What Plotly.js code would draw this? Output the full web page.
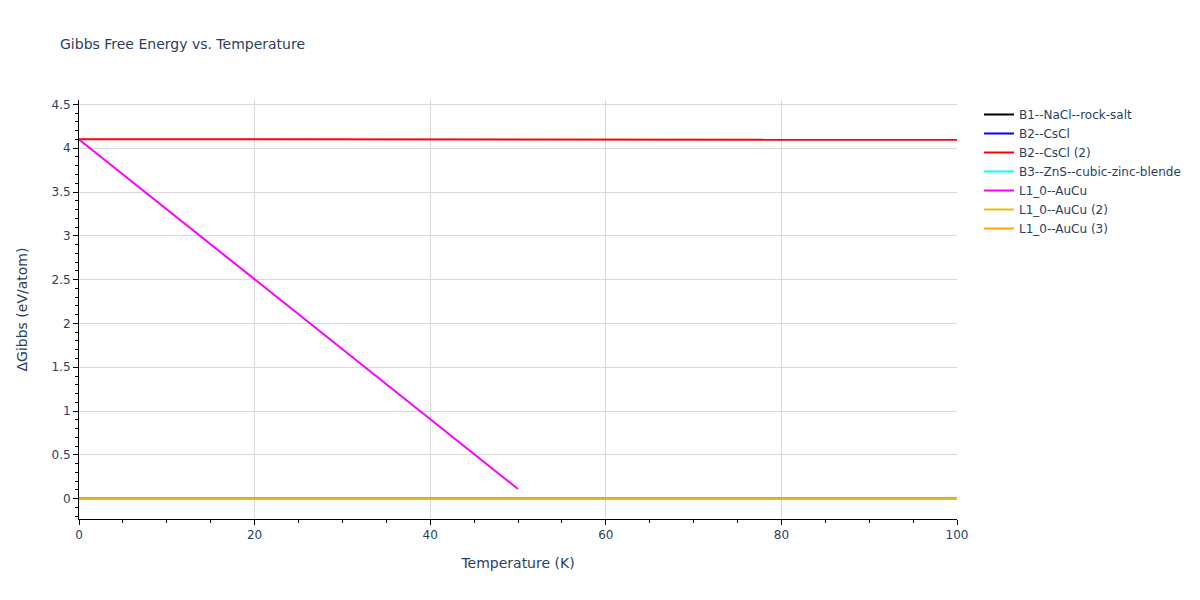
<!DOCTYPE html>
<html>
<head>
<meta charset="utf-8">
<script src="https://cdn.plot.ly/plotly-3.0.1.min.js"></script>
<style>html,body{margin:0;padding:0;background:#fff;}#chart{width:1200px;height:600px;}</style>
</head>
<body>
<div id="chart"></div>
<script>
const seriesNames = ["B1--NaCl--rock-salt", "B2--CsCl", "B2--CsCl (2)", "B3--ZnS--cubic-zinc-blende", "L1_0--AuCu", "L1_0--AuCu (2)", "L1_0--AuCu (3)"];
const seriesColors = ["black", "blue", "red", "cyan", "magenta", "#e8bc1a", "orange"];

const tempFull = [0, 10, 20, 30, 40, 50, 60, 70, 80, 90, 100];
const tempHalf = [0, 10, 20, 30, 40, 50];

const b1Values = [0, 0, 0, 0, 0, 0, 0, 0, 0, 0, 0];
const b2Values = [0, 0, 0, 0, 0, 0, 0, 0, 0, 0, 0];
const b2bValues = [4.102, 4.101, 4.101, 4.1, 4.1, 4.099, 4.099, 4.098, 4.097, 4.097, 4.096];
const b3Values = [0, 0, 0, 0, 0, 0, 0, 0, 0, 0, 0];
const l10Values = [4.1, 3.3, 2.5, 1.71, 0.91, 0.11];
const l10bValues = [0, 0, 0, 0, 0, 0, 0, 0, 0, 0, 0];
const l10cValues = [0, 0, 0, 0, 0, 0, 0, 0, 0, 0, 0];

const xs = [tempFull, tempFull, tempFull, tempFull, tempHalf, tempFull, tempFull];
const ys = [b1Values, b2Values, b2bValues, b3Values, l10Values, l10bValues, l10cValues];
// drawing order: the gold series is drawn over the others at zero, legend keeps reference order
const drawOrder = [0, 1, 3, 6, 5, 2, 4];

const traces = drawOrder.map(i => ({
  x: xs[i], y: ys[i], name: seriesNames[i], type: 'scatter', mode: 'lines',
  legendrank: i + 1,
  line: {color: seriesColors[i], width: 2}
}));

const fontFam = '"DejaVu Sans", Verdana, sans-serif';
const layout = {
  width: 1200, height: 600,
  title: {text: "Gibbs Free Energy vs. Temperature", x: 0.05, y: 0.935, font: {size: 14, color: '#2a3f5f', family: fontFam}},
  font: {family: fontFam, color: '#2a3f5f', size: 12},
  paper_bgcolor: 'white', plot_bgcolor: 'white',
  margin: {l: 79, r: 243, t: 100, b: 81},
  xaxis: {
    title: {text: "Temperature (K)", font: {size: 14}, standoff: 16},
    range: [0, 100], dtick: 20, showgrid: true, gridcolor: '#d9d9d9',
    showline: true, linecolor: 'black', linewidth: 1,
    ticks: 'outside', tickcolor: 'black', ticklen: 5,
    minor: {dtick: 5, ticks: 'outside', ticklen: 3, tickcolor: 'black', showgrid: false},
    zeroline: false
  },
  yaxis: {
    title: {text: "ΔGibbs (eV/atom)", font: {size: 14}, standoff: 20},
    range: [-0.232, 4.55], dtick: 0.5, showgrid: true, gridcolor: '#d9d9d9',
    showline: true, linecolor: 'black', linewidth: 1,
    ticks: 'outside', tickcolor: 'black', ticklen: 5,
    minor: {dtick: 0.1, ticks: 'outside', ticklen: 3, tickcolor: 'black', showgrid: false},
    zeroline: false
  },
  legend: {x: 1.025, y: 1, xanchor: 'left', yanchor: 'top', font: {size: 12}, traceorder: 'normal'},
  showlegend: true
};
Plotly.newPlot('chart', traces, layout, {displayModeBar: false});
</script>
</body>
</html>
